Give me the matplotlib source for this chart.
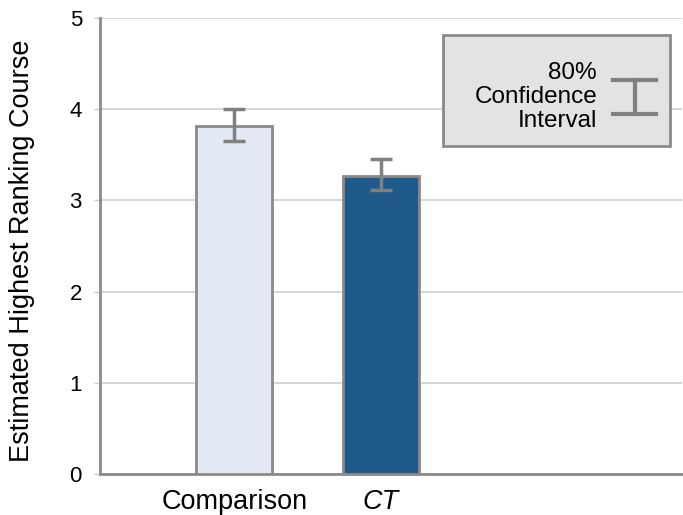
import matplotlib.pyplot as plt
from matplotlib.patches import Rectangle
from matplotlib.lines import Line2D

plt.rcParams['font.family'] = ['Liberation Sans', 'DejaVu Sans']

# Data
groups = ["Comparison", "CT"]
means = [3.82, 3.27]
ci_low = [3.65, 3.11]
ci_high = [4.00, 3.45]
colors = ['#e3e9f2', '#1f5a8a']

err = [[m - lo for m, lo in zip(means, ci_low)],
       [hi - m for m, hi in zip(means, ci_high)]]

fig = plt.figure(figsize=(6.83, 5.15), dpi=100)
ax = fig.add_axes([100 / 683, 41 / 515, 582 / 683, 456 / 515])

x = list(range(len(groups)))
ax.bar(x, means, width=0.52, color=colors, edgecolor='#8a8a8a', linewidth=2, zorder=3)
ax.errorbar(x, means, yerr=err, fmt='none', ecolor='#808080', elinewidth=2.5,
            capsize=8, capthick=2.5, zorder=4)

ax.set_xlim(-0.915, 3.05)
ax.set_ylim(0, 5)
ax.set_yticks([0, 1, 2, 3, 4, 5])
ax.grid(axis='y', color='#d0d0d0', linewidth=1.2, zorder=0)
ax.set_axisbelow(True)

for side in ['left', 'bottom', 'top', 'right']:
    ax.spines[side].set_color('#8a8a8a')
    ax.spines[side].set_linewidth(2)
ax.spines['top'].set_visible(False)
ax.spines['right'].set_visible(False)

ax.tick_params(axis='y', length=4, width=1, color='#c8c8c8', pad=9, labelsize=16)
ax.tick_params(axis='x', length=0, pad=11, labelsize=19.5)
ax.set_xticks(x)
ax.set_xticklabels(groups)
ax.get_xticklabels()[1].set_style('italic')
ax.set_ylabel("Estimated Highest Ranking Course", fontsize=19.5)
ax.yaxis.set_label_coords(-0.112, 0.49)

# Legend box for the confidence interval
box = Rectangle((443, 369), 227, 111, transform=None, facecolor='#e3e3e3',
                edgecolor='#8a8a8a', linewidth=2, zorder=5)
fig.patches.append(box)
fig.text(597 / 683, (515 - 97) / 515, "80%\nConfidence\nInterval", ha='right', va='center',
         fontsize=17.5, linespacing=1.1, zorder=6)
fig.add_artist(Line2D([635 / 683, 635 / 683], [(515 - 80) / 515, (515 - 114) / 515],
                      color='#808080', linewidth=3, zorder=6))
fig.add_artist(Line2D([613 / 683, 656 / 683], [(515 - 80) / 515] * 2,
                      color='#808080', linewidth=3, zorder=6))
fig.add_artist(Line2D([613 / 683, 656 / 683], [(515 - 114) / 515] * 2,
                      color='#808080', linewidth=3, zorder=6))

fig.savefig("out.png", dpi=100)
